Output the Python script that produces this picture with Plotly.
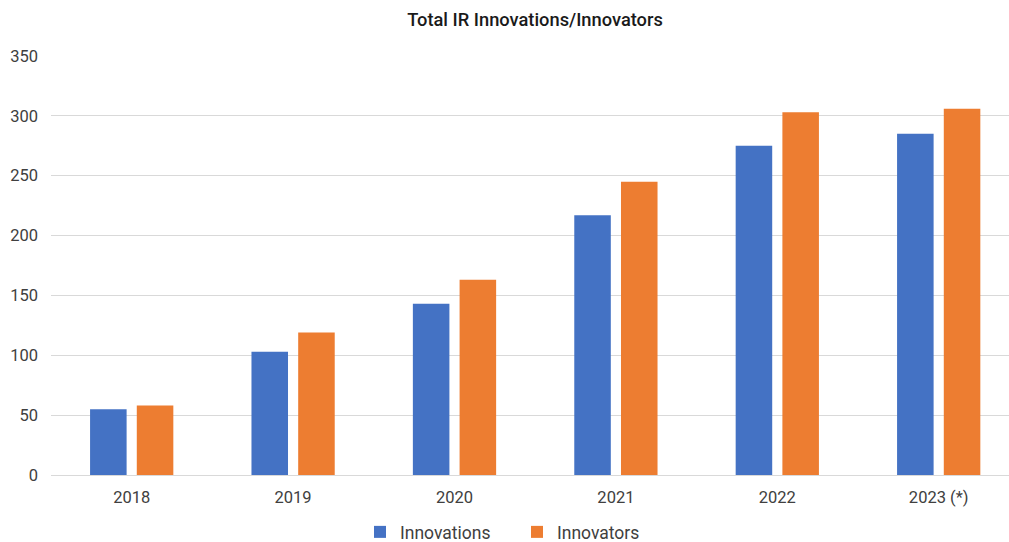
import plotly.graph_objects as go

# Chart data
years = ["2018", "2019", "2020", "2021", "2022", "2023 (*)"]
innovations = [55, 103, 143, 217, 275, 285]
innovators = [58, 119, 163, 245, 303, 306]

BLUE = "#4472C4"
ORANGE = "#ED7D31"
TEXT = "#404040"
GRID = "#D9D9D9"

fig = go.Figure()
fig.add_trace(go.Bar(name="Innovations", x=years, y=innovations,
                     marker=dict(color=BLUE, line=dict(width=0))))
fig.add_trace(go.Bar(name="Innovators", x=years, y=innovators,
                     marker=dict(color=ORANGE, line=dict(width=0))))

W, H = 1009, 542
ML, MR, MT, MB = 51, 0, 56, 67

fig.update_layout(
    width=W, height=H,
    margin=dict(l=ML, r=MR, t=MT, b=MB, pad=0),
    paper_bgcolor="white", plot_bgcolor="white",
    barmode="group", bargap=0.421, bargroupgap=0.218,
    font=dict(family="Roboto, Arial, sans-serif", color=TEXT, size=16),
    title=dict(text="Total IR Innovations/Innovators",
               font=dict(family="Roboto, Arial, sans-serif", size=18.3,
                         color="#1a1a1a", weight=500),
               x=(535 - ML) / (W - ML - MR), xref="paper", xanchor="center",
               y=1 - 20 / H, yref="container", yanchor="middle"),
    legend=dict(orientation="h", x=(517 - ML) / (W - ML - MR), xanchor="center",
                y=1 - 532 / H, yref="container", yanchor="middle",
                font=dict(size=17.5, color=TEXT), itemwidth=30,
                entrywidth=112, entrywidthmode="pixels",
                traceorder="normal"),
    showlegend=True,
)

fig.update_xaxes(range=[-0.5, -0.5 + (W - ML - MR) / 161.4],
                 showgrid=False, showline=False, zeroline=False,
                 ticks="", tickfont=dict(size=16.5, color=TEXT),
                 ticklabelstandoff=10)
fig.update_yaxes(range=[0, 350], dtick=50, tick0=0,
                 showgrid=True, gridcolor=GRID, gridwidth=1,
                 zeroline=True, zerolinecolor=GRID, zerolinewidth=1,
                 showline=False, ticks="", tickfont=dict(size=16.5, color=TEXT),
                 ticklabelstandoff=12)

fig.write_html("out.html")
